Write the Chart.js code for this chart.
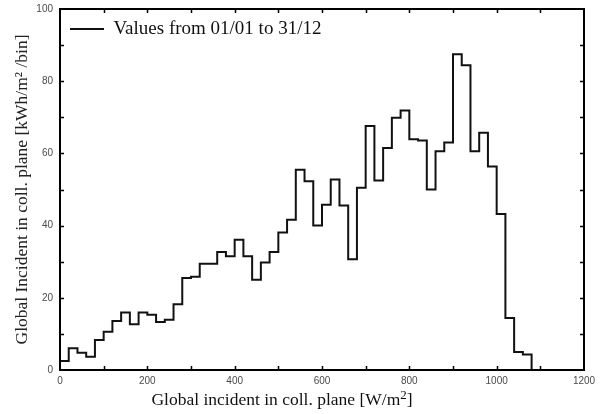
<!DOCTYPE html>
<html>
<head>
<meta charset="utf-8">
<script src="https://cdn.jsdelivr.net/npm/chart.js@4.4.1/dist/chart.umd.min.js"></script>
<style>
  html, body { margin: 0; padding: 0; background: #fff; }
  #wrap { width: 600px; height: 414px; }
</style>
</head>
<body>
<div id="wrap"><canvas id="histChart"></canvas></div>
<script>
// bin start edges (W/m2) and energy per bin (kWh/m2/bin)
const binEdges = [0, 20, 40, 60, 80, 100, 120, 140, 160, 180, 200, 220, 240, 260, 280, 300,
  320, 340, 360, 380, 400, 420, 440, 460, 480, 500, 520, 540, 560, 580, 600, 620, 640, 660,
  680, 700, 720, 740, 760, 780, 800, 820, 840, 860, 880, 900, 920, 940, 960, 980, 1000,
  1020, 1040, 1060, 1080];
const binValues = [2.5, 6.0, 4.8, 3.7, 8.3, 10.6, 13.6, 15.9, 12.7, 15.9, 15.3, 13.3, 13.9,
  18.2, 25.5, 25.8, 29.4, 29.4, 32.7, 31.5, 36.1, 31.5, 25.0, 29.8, 32.7, 38.1, 41.6, 55.5,
  52.3, 40.0, 45.8, 52.8, 45.6, 30.7, 50.5, 67.6, 52.5, 61.5, 69.9, 71.9, 63.9, 63.6, 50.0,
  60.6, 63.0, 87.5, 84.4, 60.6, 65.7, 56.4, 43.2, 14.4, 5.0, 4.3];
const xTicks = [0, 200, 400, 600, 800, 1000, 1200];
const yTicks = [0, 20, 40, 60, 80, 100];

const serif = '"Liberation Serif", "Times New Roman", serif';
const sans = '"Liberation Sans", Arial, sans-serif';

// step outline: rise from 0, one point per bin start, close down at last edge
const points = [{ x: binEdges[0], y: 0 }];
binValues.forEach((v, i) => points.push({ x: binEdges[i], y: v }));
points.push({ x: binEdges[binEdges.length - 1], y: binValues[binValues.length - 1] });
points.push({ x: binEdges[binEdges.length - 1], y: 0 });

// frame, inward tick marks on all four sides, x title with real superscript
const framePlugin = {
  id: 'frame',
  afterDatasetsDraw(chart) {
    const { ctx, chartArea: a, scales } = chart;
    ctx.save();
    ctx.strokeStyle = '#000';
    ctx.lineWidth = 1.5;
    ctx.beginPath();
    for (let v = 100; v < 1200; v += 100) {
      const px = Math.round(scales.x.getPixelForValue(v)) + 0.5;
      ctx.moveTo(px, a.bottom); ctx.lineTo(px, a.bottom - 4);
      ctx.moveTo(px, a.top); ctx.lineTo(px, a.top + 4);
    }
    for (let v = 10; v < 100; v += 10) {
      const py = Math.round(scales.y.getPixelForValue(v)) + 0.5;
      ctx.moveTo(a.left, py); ctx.lineTo(a.left + 4, py);
      ctx.moveTo(a.right, py); ctx.lineTo(a.right - 4, py);
    }
    ctx.stroke();
    ctx.lineWidth = 2;
    ctx.strokeRect(a.left, a.top, a.right - a.left, a.bottom - a.top);

    // x axis title
    const main = 'Global incident in coll. plane [W/m';
    ctx.fillStyle = '#111';
    ctx.textBaseline = 'alphabetic';
    ctx.font = '17.5px ' + serif;
    const w1 = ctx.measureText(main).width;
    ctx.font = '13px ' + serif;
    const w2 = ctx.measureText('2').width;
    ctx.font = '17.5px ' + serif;
    const w3 = ctx.measureText(']').width;
    let x = 282 - (w1 + w2 + w3) / 2;
    const base = 405;
    ctx.fillText(main, x, base);
    x += w1;
    ctx.font = '13px ' + serif;
    ctx.fillText('2', x, base - 6);
    x += w2;
    ctx.font = '17.5px ' + serif;
    ctx.fillText(']', x, base);
    ctx.restore();
  }
};

const ctx = document.getElementById('histChart').getContext('2d');
new Chart(ctx, {
  type: 'line',
  data: {
    datasets: [{
      label: 'Values from 01/01 to 31/12',
      data: points,
      stepped: 'before',
      borderColor: '#111',
      backgroundColor: '#111',
      borderWidth: 2,
      pointRadius: 0,
      fill: false,
      clip: false
    }]
  },
  options: {
    responsive: true,
    maintainAspectRatio: false,
    animation: false,
    layout: { padding: { top: 9, right: 16, left: 0, bottom: 0 } },
    plugins: {
      legend: {
        position: 'chartArea',
        align: 'start',
        title: { display: true, text: ' ', padding: 0, font: { size: 8 } },
        labels: {
          usePointStyle: true,
          pointStyle: 'line',
          pointStyleWidth: 34,
          color: '#111',
          padding: 10,
          font: { family: serif, size: 19 }
        }
      },
      tooltip: { enabled: false }
    },
    scales: {
      x: {
        type: 'linear',
        min: 0,
        max: 1200,
        afterBuildTicks: s => { s.ticks = xTicks.map(v => ({ value: v })); },
        afterFit: s => { s.height = 44; s.paddingLeft = 0; s.paddingRight = 0; },
        grid: { display: false, drawTicks: false },
        border: { display: false },
        ticks: {
          color: '#4a4a4a',
          padding: 5,
          maxRotation: 0,
          callback: v => String(v),
          font: { family: sans, size: 10 }
        }
      },
      y: {
        min: 0,
        max: 100,
        afterBuildTicks: s => { s.ticks = yTicks.map(v => ({ value: v })); },
        afterFit: s => { s.width = 60; s.paddingTop = 0; s.paddingBottom = 0; },
        grid: { display: false, drawTicks: false },
        border: { display: false },
        ticks: {
          color: '#4a4a4a',
          padding: 7,
          callback: v => String(v),
          font: { family: sans, size: 10 }
        },
        title: {
          display: true,
          text: 'Global Incident in coll. plane [kWh/m² /bin]',
          color: '#222',
          padding: { top: 12, bottom: 0 },
          font: { family: serif, size: 17.5 }
        }
      }
    }
  },
  plugins: [framePlugin]
});
</script>
</body>
</html>
